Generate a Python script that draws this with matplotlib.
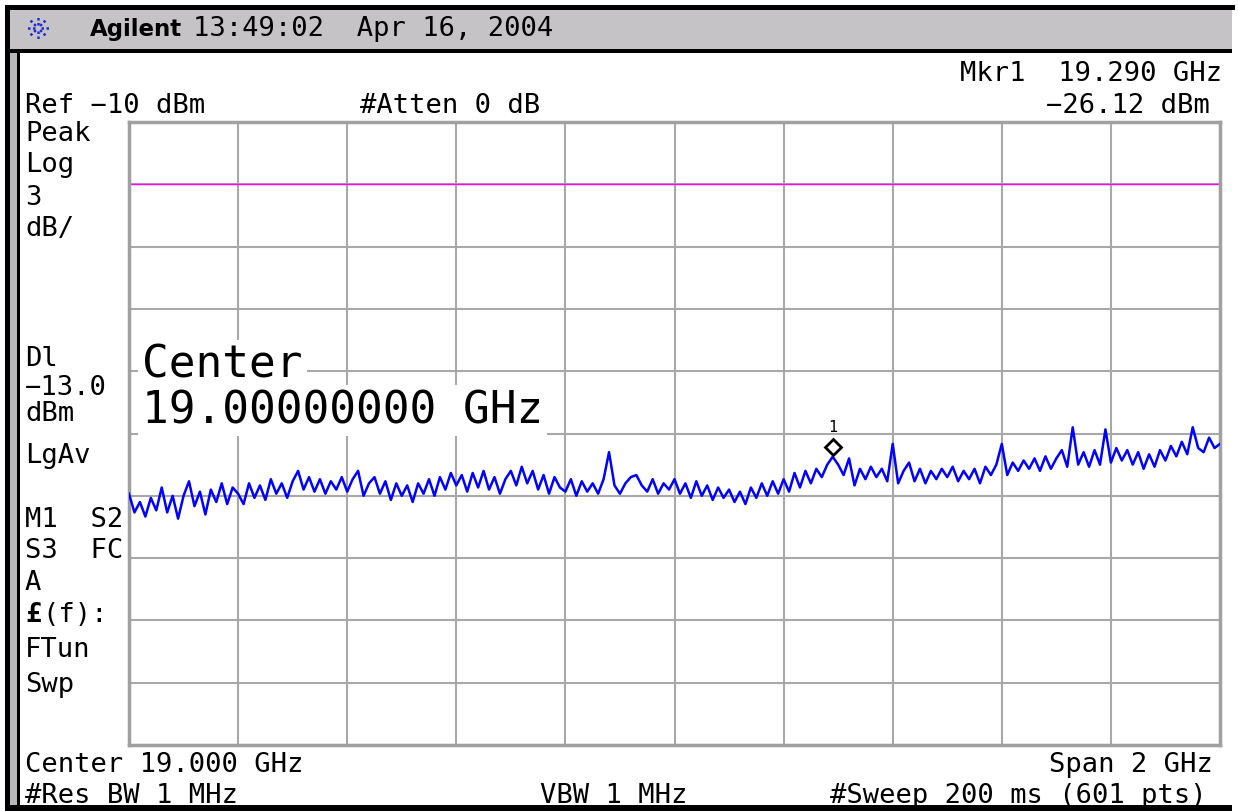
import numpy as np
import matplotlib.pyplot as plt
from matplotlib.patches import Rectangle
from matplotlib.transforms import offset_copy

# analyzer settings (from the screen annotations)
ref_level = -10.0
db_per_div = 3.0
center_ghz = 19.0
span_ghz = 2.0
display_line = -13.0
mkr_freq = 19.290
mkr_level = -26.12

# trace, one value every 10 MHz (18.00 .. 20.00 GHz)
trace_dbm = [
    -27.9, -28.8, -28.3, -29.0, -28.1, -28.7, -27.6, -28.8, -28.0, -29.1,
    -28.0, -27.3, -28.5, -27.8, -28.9, -27.7, -28.3, -27.4, -28.4, -27.6,
    -27.9, -28.4, -27.4, -28.1, -27.5, -28.2, -27.2, -27.9, -27.4, -28.1,
    -27.3, -26.8, -27.7, -27.1, -27.8, -27.2, -27.9, -27.3, -27.7, -27.1,
    -27.8, -27.2, -26.8, -28.0, -27.4, -27.1, -27.9, -27.3, -28.2, -27.4,
    -28.0, -27.5, -28.3, -27.4, -27.9, -27.2, -28.0, -27.1, -27.7, -26.9,
    -27.5, -27.0, -27.8, -26.9, -27.6, -26.8, -27.7, -27.1, -27.9, -27.2,
    -26.8, -27.5, -26.6, -27.4, -26.8, -27.7, -27.0, -27.9, -27.1, -27.6,
    -27.8, -27.2, -28.0, -27.3, -27.8, -27.4, -27.9, -27.2, -25.9, -27.5,
    -27.9, -27.4, -27.1, -27.0, -27.5, -27.8, -27.2, -27.9, -27.4, -27.7,
    -27.2, -27.9, -27.4, -28.1, -27.3, -28.0, -27.5, -28.2, -27.6, -28.1,
    -27.7, -28.3, -27.8, -28.4, -27.6, -28.1, -27.4, -28.0, -27.3, -27.9,
    -27.2, -27.8, -26.9, -27.6, -26.8, -27.4, -26.7, -27.1, -26.5, -26.12,
    -26.5, -27.0, -26.2, -27.5, -26.7, -27.2, -26.6, -27.1, -26.7, -27.3,
    -25.5, -27.4, -26.8, -26.4, -27.3, -26.7, -27.4, -26.8, -27.2, -26.7,
    -27.1, -26.6, -27.3, -26.8, -27.2, -26.7, -27.4, -26.6, -27.0, -26.5,
    -25.5, -27.0, -26.4, -26.8, -26.3, -26.7, -26.2, -26.8, -26.1, -26.7,
    -26.2, -25.8, -26.6, -24.7, -26.5, -25.9, -26.6, -25.8, -26.5, -24.8,
    -26.4, -25.7, -26.3, -25.8, -26.5, -25.9, -26.7, -26.0, -26.6, -25.8,
    -26.3, -25.6, -26.1, -25.4, -26.0, -24.7, -25.7, -25.9, -25.2, -25.7,
    -25.5,
]
freq_ghz = np.linspace(center_ghz - span_ghz / 2, center_ghz + span_ghz / 2, len(trace_dbm))

# annotation column on the left: (text, baseline y in pixels)
left_labels = [("Peak", 141), ("Log", 172), ("3", 205), ("dB/", 236),
               ("Dl", 366), ("\u221213.0", 395), ("dBm", 421), ("LgAv", 463),
               ("M1  S2", 527), ("S3  FC", 558), ("A", 590), ("(f):", 622),
               ("FTun", 657), ("Swp", 692)]

W, H = 1238, 811
mono = "DejaVu Sans Mono"
fs = 19.5

fig = plt.figure(figsize=(W / 100, H / 100), dpi=100)
fig.patch.set_facecolor("white")

# background layer in pixel coordinates
bg = fig.add_axes([0, 0, 1, 1])
bg.set_xlim(0, W)
bg.set_ylim(H, 0)
bg.axis("off")

bg.add_patch(Rectangle((10, 10), 1222, 39, facecolor="#c5c3c6", edgecolor="none"))
bg.add_patch(Rectangle((5, 5), 1230, 5, facecolor="black", edgecolor="none"))
bg.add_patch(Rectangle((10, 49), 1222, 4, facecolor="black", edgecolor="none"))
bg.add_patch(Rectangle((5, 5), 5, 806, facecolor="black", edgecolor="none"))
bg.add_patch(Rectangle((10, 53), 7, 758, facecolor="#b8b6b8", edgecolor="none"))
bg.add_patch(Rectangle((17, 53), 3, 758, facecolor="black", edgecolor="none"))
bg.add_patch(Rectangle((10, 805), 1222, 6, facecolor="black", edgecolor="none"))

# Agilent spark logo
for ang in np.arange(0, 360, 45):
    a = np.deg2rad(ang)
    bg.plot([38 + 3 * np.cos(a), 38 + 11 * np.cos(a)],
            [28 + 3 * np.sin(a), 28 + 11 * np.sin(a)],
            color="#1f2bd8", lw=1.8, ls=(0, (1, 1)))

bg.text(90, 36, "Agilent", fontsize=16.5, fontweight="bold", family="DejaVu Sans")
bg.text(193, 36, "13:49:02  Apr 16, 2004", fontsize=fs, family=mono)

bg.text(1222, 81, "Mkr1  19.290 GHz", fontsize=fs, family=mono, ha="right")
bg.text(25, 113, "Ref \u221210 dBm", fontsize=fs, family=mono)
bg.text(360, 113, "#Atten 0 dB", fontsize=fs, family=mono)
bg.text(1210, 113, "\u221226.12 dBm", fontsize=fs, family=mono, ha="right")

for txt, yb in left_labels:
    if txt == "(f):":
        bg.text(25, yb, "\u00a3", fontsize=fs, family=mono, fontweight="bold")
        bg.text(42, yb, txt, fontsize=fs, family=mono)
    else:
        bg.text(25, yb, txt, fontsize=fs, family=mono)

bg.text(25, 772, "Center 19.000 GHz", fontsize=fs, family=mono)
bg.text(1213, 772, "Span 2 GHz", fontsize=fs, family=mono, ha="right")
bg.text(25, 803, "#Res BW 1 MHz", fontsize=fs, family=mono)
bg.text(540, 803, "VBW 1 MHz", fontsize=fs, family=mono)
bg.text(1207, 803, "#Sweep 200 ms (601 pts)", fontsize=fs, family=mono, ha="right")

# graticule
ax = fig.add_axes([129 / W, 1 - 745 / H, 1091 / W, 623 / H])
ax.set_xlim(center_ghz - span_ghz / 2, center_ghz + span_ghz / 2)
ax.set_ylim(ref_level - 10 * db_per_div, ref_level)
ax.set_xticks(np.linspace(center_ghz - span_ghz / 2, center_ghz + span_ghz / 2, 11))
ax.set_yticks(np.arange(ref_level - 10 * db_per_div, ref_level + 0.1, db_per_div))
ax.tick_params(length=0, labelbottom=False, labelleft=False)
ax.grid(color="#a8a8a8", lw=1.5)
for s in ax.spines.values():
    s.set_color("#a0a0a0")
    s.set_linewidth(2.5)

ax.axhline(display_line, color="#ff00ff", lw=1.0)
ax.plot(freq_ghz, trace_dbm, color="#0000ff", lw=1.8, zorder=3)

# marker 1 sits just above the trace point
tr = offset_copy(ax.transData, fig=fig, x=0, y=10, units="dots")
ax.plot([mkr_freq], [mkr_level], marker="D", ms=8, mfc="none", mec="black",
        mew=2, transform=tr, zorder=5)
ax.annotate("1", (mkr_freq, mkr_level), xytext=(0, 29), textcoords="offset pixels",
            ha="center", va="center", fontsize=11, family=mono)

# big center frequency readout
ax.text(142, 378, "Center", transform=bg.transData, fontsize=32, family=mono,
        bbox=dict(facecolor="white", edgecolor="none", pad=3), zorder=4)
ax.text(142, 423, "19.00000000 GHz", transform=bg.transData, fontsize=32, family=mono,
        bbox=dict(facecolor="white", edgecolor="none", pad=3), zorder=4)

fig.savefig("out.png", dpi=100)
